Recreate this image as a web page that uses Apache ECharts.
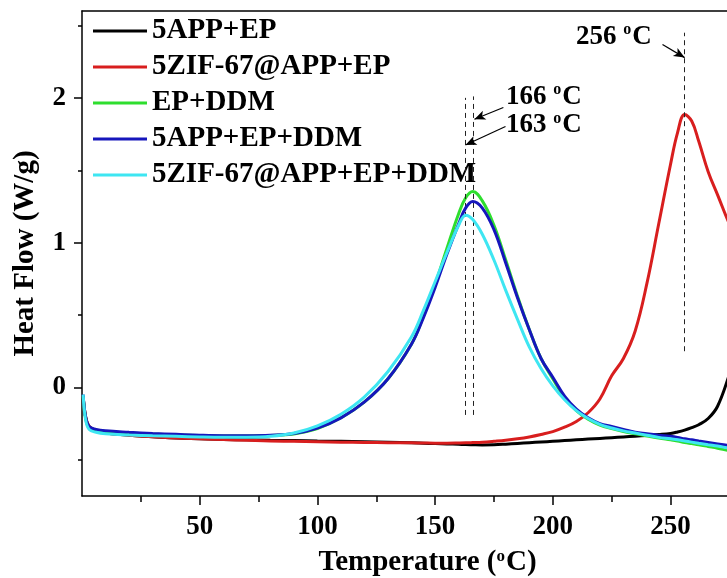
<!DOCTYPE html>
<html>
<head>
<meta charset="utf-8">
<script src="https://cdn.jsdelivr.net/npm/echarts@6/dist/echarts.min.js"></script>
<style>
  html, body { margin: 0; padding: 0; background: #fff; }
  #chart { width: 727px; height: 578px; }
</style>
</head>
<body>
<div id="chart"></div>
<script>
// DSC heat flow curves, sampled at a shared set of temperatures (°C)
const temps = [0.5, 1.5, 3, 6, 10, 20, 30, 40, 50, 60, 70, 80, 90, 100, 110, 120, 130, 140,
  145, 150, 155, 160, 163, 166, 170, 175, 180, 185, 190, 195, 200, 205, 210, 215, 220, 225,
  230, 235, 240, 245, 250, 253, 256, 259, 262, 266, 270, 275, 280];

const seriesNames = ['5APP+EP', '5ZIF-67@APP+EP', 'EP+DDM', '5APP+EP+DDM', '5ZIF-67@APP+EP+DDM'];

const flow5AppEp = [-0.06, -0.2, -0.27, -0.3, -0.315, -0.33, -0.34, -0.35, -0.355, -0.36, -0.362,
  -0.365, -0.367, -0.37, -0.372, -0.375, -0.378, -0.382, -0.385, -0.388, -0.39, -0.393, -0.395,
  -0.396, -0.397, -0.396, -0.392, -0.387, -0.382, -0.377, -0.372, -0.367, -0.362, -0.357, -0.352,
  -0.347, -0.342, -0.337, -0.332, -0.326, -0.318, -0.308, -0.295, -0.278, -0.258, -0.215, -0.13,
  0.09, 0.35];

const flowZifAppEp = [-0.06, -0.2, -0.27, -0.3, -0.315, -0.33, -0.34, -0.35, -0.355, -0.36, -0.365,
  -0.37, -0.372, -0.375, -0.378, -0.38, -0.382, -0.383, -0.384, -0.385, -0.385, -0.384, -0.383,
  -0.381, -0.378, -0.372, -0.365, -0.355, -0.342, -0.325, -0.305, -0.275, -0.235, -0.175, -0.08,
  0.08, 0.2, 0.39, 0.72, 1.13, 1.54, 1.76, 1.885, 1.84, 1.7, 1.49, 1.33, 1.13, 0.97];

const flowEpDdm = [-0.06, -0.21, -0.28, -0.295, -0.305, -0.315, -0.322, -0.327, -0.332, -0.335,
  -0.335, -0.332, -0.322, -0.285, -0.21, -0.1, 0.06, 0.3, 0.49, 0.71, 0.96, 1.2, 1.31, 1.353,
  1.29, 1.12, 0.88, 0.63, 0.4, 0.2, 0.06, -0.07, -0.16, -0.22, -0.26, -0.285, -0.305, -0.32,
  -0.335, -0.35, -0.362, -0.37, -0.38, -0.388, -0.396, -0.408, -0.42, -0.437, -0.45];

const flow5AppEpDdm = [-0.05, -0.2, -0.27, -0.29, -0.3, -0.31, -0.318, -0.324, -0.33, -0.333,
  -0.333, -0.33, -0.318, -0.28, -0.21, -0.1, 0.06, 0.3, 0.48, 0.69, 0.92, 1.13, 1.24, 1.284,
  1.24, 1.09, 0.86, 0.62, 0.4, 0.2, 0.07, -0.06, -0.15, -0.21, -0.25, -0.27, -0.29, -0.31,
  -0.32, -0.33, -0.338, -0.345, -0.355, -0.362, -0.37, -0.38, -0.39, -0.403, -0.415];

const flowZifAppEpDdm = [-0.05, -0.22, -0.29, -0.31, -0.32, -0.328, -0.334, -0.338, -0.342,
  -0.344, -0.344, -0.338, -0.315, -0.265, -0.185, -0.065, 0.11, 0.35, 0.53, 0.73, 0.93, 1.12,
  1.19, 1.16, 1.06, 0.88, 0.67, 0.47, 0.28, 0.13, 0.01, -0.085, -0.16, -0.215, -0.255, -0.28,
  -0.3, -0.315, -0.33, -0.345, -0.355, -0.362, -0.37, -0.378, -0.386, -0.396, -0.405, -0.42,
  -0.432];

// Peak temperatures that get marked with dashed guides
const peakTemps = [256, 166, 163];

// Axis ticks and labels
const xMajorTicks = [50, 100, 150, 200, 250];
const xMinorTicks = [25, 75, 125, 175, 225];
const yMajorTicks = [0, 1, 2];
const yMinorTicks = [-0.5, 0.5, 1.5, 2.5];

const FONT = '"Liberation Serif", "Times New Roman", serif';
const colors = ['#000000', '#d81e1e', '#2ede2e', '#1616bc', '#3ee6f2'];
const allFlows = [flow5AppEp, flowZifAppEp, flowEpDdm, flow5AppEpDdm, flowZifAppEpDdm];

const chart = echarts.init(document.getElementById('chart'), null, { renderer: 'canvas' });

const supRich = {
  n: { fontFamily: FONT, fontWeight: 'bold', fontSize: 27, color: '#000', lineHeight: 30 },
  s: { fontFamily: FONT, fontWeight: 'bold', fontSize: 16, color: '#000', lineHeight: 12, verticalAlign: 'top', padding: [0, 1, 0, 0] }
};
const degLabel = t => '{n|' + t + ' }{s|o}{n|C}';

// the frame is cut at the right edge of the page, so the visible x range stops near 274 °C
const xRange = { min: 0, max: 274 };
const yRange = { min: -0.75, max: 2.6 };

const curveSeries = seriesNames.map((name, i) => ({
  name: name,
  type: 'line',
  data: temps.map((t, k) => [t, allFlows[i][k]]),
  showSymbol: false,
  smooth: 0.4,
  lineStyle: { color: colors[i], width: 3 },
  itemStyle: { color: colors[i] },
  z: 2 + i
}));

const dashed = { type: [5, 4], color: '#222', width: 1 };
const arrowStyle = { type: 'solid', color: '#000', width: 1.2 };

const annotationSeries = {
  name: 'annotations',
  type: 'scatter',
  silent: true,
  symbolSize: 0,
  z: 10,
  itemStyle: { opacity: 1 },
  data: [
    { value: [225.9, 2.418], label: { formatter: degLabel(peakTemps[0]) } },
    { value: [196.2, 2.005], label: { formatter: degLabel(peakTemps[1]) } },
    { value: [196.2, 1.809], label: { formatter: degLabel(peakTemps[2]) } }
  ],
  label: { show: true, position: 'inside', color: '#000', opacity: 1, rich: supRich },
  markLine: {
    silent: true,
    animation: false,
    symbol: ['none', 'none'],
    label: { show: false },
    emphasis: { disabled: true },
    data: [
      [{ coord: [peakTemps[0], 0.25], lineStyle: dashed }, { coord: [peakTemps[0], 2.45] }],
      [{ coord: [peakTemps[1], -0.19], lineStyle: dashed }, { coord: [peakTemps[1], 2.01] }],
      [{ coord: [peakTemps[2], -0.19], lineStyle: dashed }, { coord: [peakTemps[2], 2.0] }],
      [{ coord: [246.6, 2.368], lineStyle: arrowStyle, symbol: 'none' },
       { coord: [peakTemps[0], 2.278], symbol: 'arrow', symbolSize: [7, 11] }],
      [{ coord: [179.0, 1.933], lineStyle: arrowStyle, symbol: 'none' },
       { coord: [peakTemps[1] + 0.7, 1.852], symbol: 'arrow', symbolSize: [7, 11] }],
      [{ coord: [179.9, 1.802], lineStyle: arrowStyle, symbol: 'none' },
       { coord: [peakTemps[2] - 0.1, 1.674], symbol: 'arrow', symbolSize: [7, 11] }]
    ]
  }
};

const axisText = { fontFamily: FONT, fontWeight: 'bold', fontSize: 27, color: '#000' };
const blackLine = { show: true, lineStyle: { color: '#000', width: 1.5 } };
const supStyle = { fontFamily: FONT, fontWeight: 'bold', fontSize: 17, color: '#000', lineHeight: 12, verticalAlign: 'top', padding: [0, 1, 0, 0] };

const option = {
  animation: false,
  backgroundColor: '#fff',
  textStyle: { fontFamily: FONT },
  // keep the plot rectangle exactly where left/right/top/bottom put it
  grid: { left: 82, right: 0, top: 11, bottom: 82, containLabel: false, outerBoundsMode: 'none' },
  legend: {
    data: seriesNames,
    orient: 'vertical',
    left: 93,
    top: 16,
    padding: 0,
    itemGap: 6,
    itemWidth: 54,
    itemHeight: 3,
    icon: 'rect',
    selectedMode: false,
    textStyle: { fontFamily: FONT, fontWeight: 'bold', fontSize: 29, color: '#000', lineHeight: 30 }
  },
  xAxis: [
    {
      type: 'value', position: 'bottom', ...xRange,
      axisLine: { ...blackLine, onZero: false },
      splitLine: { show: false },
      axisTick: { show: true, inside: false, length: 9, customValues: xMajorTicks, lineStyle: { color: '#000', width: 1.5 } },
      axisLabel: { ...axisText, margin: 18, customValues: xMajorTicks },
      name: 'Temperature ({s|o}C)',
      nameLocation: 'middle',
      nameGap: 52,
      nameTextStyle: {
        fontFamily: FONT, fontWeight: 'bold', fontSize: 29, color: '#000',
        padding: [0, 0, 0, 46],
        rich: { s: supStyle }
      }
    },
    {
      type: 'value', position: 'bottom', ...xRange,
      axisLine: { show: false, onZero: false },
      splitLine: { show: false },
      axisTick: { show: true, length: 6, customValues: xMinorTicks, lineStyle: { color: '#000', width: 1.5 } },
      axisLabel: { show: false }
    },
    {
      type: 'value', position: 'top', ...xRange,
      axisLine: { ...blackLine, onZero: false },
      splitLine: { show: false },
      axisTick: { show: false },
      axisLabel: { show: false }
    }
  ],
  yAxis: [
    {
      type: 'value', position: 'left', ...yRange,
      axisLine: { ...blackLine, onZero: false },
      splitLine: { show: false },
      axisTick: { show: true, length: 8, customValues: yMajorTicks, lineStyle: { color: '#000', width: 1.5 } },
      axisLabel: { ...axisText, margin: 16, customValues: yMajorTicks },
      name: 'Heat Flow (W/g)',
      nameLocation: 'middle',
      nameGap: 42,
      nameTextStyle: { fontFamily: FONT, fontWeight: 'bold', fontSize: 29, color: '#000' }
    },
    {
      type: 'value', position: 'left', ...yRange,
      axisLine: { show: false, onZero: false },
      splitLine: { show: false },
      axisTick: { show: true, length: 4, customValues: yMinorTicks, lineStyle: { color: '#000', width: 1.5 } },
      axisLabel: { show: false }
    }
  ],
  series: [...curveSeries, annotationSeries]
};

chart.setOption(option);
</script>
</body>
</html>
